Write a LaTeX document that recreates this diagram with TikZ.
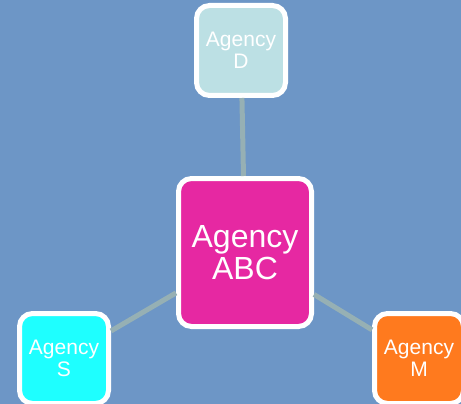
\documentclass[tikz,border=0pt]{standalone}
\usepackage{fontspec}
\setmainfont{Liberation Sans}
\usepackage{tikz}
\definecolor{bgblue}{RGB}{109,150,198}
\definecolor{abcpink}{RGB}{230,40,162}
\definecolor{dblue}{RGB}{188,224,228}
\definecolor{scyan}{RGB}{30,255,255}
\definecolor{morange}{RGB}{255,122,30}
\definecolor{linkgray}{RGB}{150,176,180}
\tikzstyle{agency}=[draw=white,line width=5pt,rounded corners=13pt,text=white,align=center,
  inner sep=0pt,minimum width=89pt,minimum height=90pt,font=\fontsize{21}{22}\selectfont]
\tikzstyle{link}=[draw=linkgray,line width=5pt]

\begin{document}
\begin{tikzpicture}[x=1pt,y=-1pt]
      \fill[bgblue] (0,0) rectangle (461,404);
      \useasboundingbox (0,0) rectangle (461,404);

      \node[agency,fill=abcpink,minimum width=133pt,minimum height=148pt,
        font=\fontsize{32}{32}\selectfont] (abc) at (245,252.5) {Agency\\ABC};
      \node[agency,fill=dblue] (d) at (241,50.5) {Agency\\D};
      \node[agency,fill=scyan] (s) at (64,358.5) {Agency\\S};
      \node[agency,fill=morange] (m) at (419,358.5) {Agency\\M};

      \foreach \x in {d,s,m}{
        \draw[link] (\x) -- (abc);
      }
\end{tikzpicture}
\end{document}
